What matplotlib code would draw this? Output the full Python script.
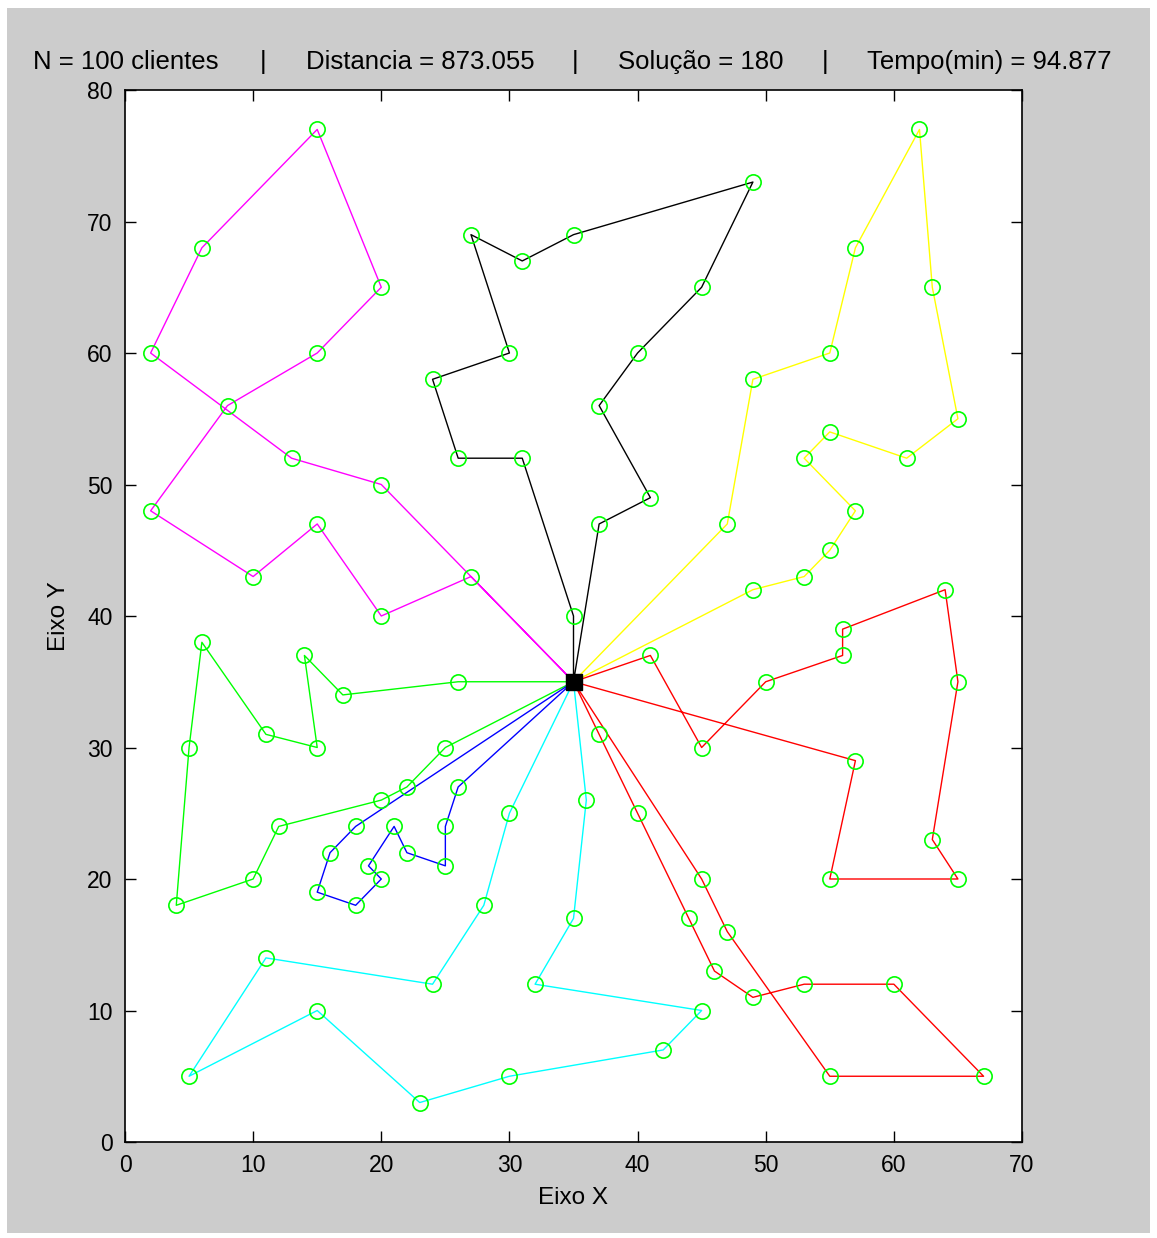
import matplotlib
matplotlib.use("Agg")
import matplotlib.pyplot as plt
from matplotlib.patches import Rectangle

W, H = 1157, 1238

# ---------------- data ----------------
depot_x, depot_y = 35, 35

magenta_x = [27, 20, 15, 10, 2, 8, 15, 20, 15, 6, 2, 13, 20]
magenta_y = [43, 40, 47, 43, 48, 56, 60, 65, 77, 68, 60, 52, 50]

black_x = [35, 31, 26, 24, 30, 27, 31, 35, 49, 45, 40, 37, 41, 37]
black_y = [40, 52, 52, 58, 60, 69, 67, 69, 73, 65, 60, 56, 49, 47]

yellow_x = [47, 49, 55, 57, 62, 63, 65, 61, 55, 53, 57, 55, 53, 49]
yellow_y = [47, 58, 60, 68, 77, 65, 55, 52, 54, 52, 48, 45, 43, 42]

redA_x = [41, 45, 50, 56, 56, 64, 65, 63, 65, 55, 57]
redA_y = [37, 30, 35, 37, 39, 42, 35, 23, 20, 20, 29]

redB_x = [37, 40, 44, 46, 49, 53, 60, 67, 55, 47, 45]
redB_y = [31, 25, 17, 13, 11, 12, 12, 5, 5, 16, 20]

green_x = [26, 17, 14, 15, 11, 6, 5, 4, 10, 12, 20, 22, 25]
green_y = [35, 34, 37, 30, 31, 38, 30, 18, 20, 24, 26, 27, 30]

blue_x = [26, 25, 25, 22, 21, 19, 20, 18, 15, 16, 18]
blue_y = [27, 24, 21, 22, 24, 21, 20, 18, 19, 22, 24]

cyan_x = [36, 35, 32, 45, 42, 30, 23, 15, 5, 11, 24, 28, 30]
cyan_y = [26, 17, 12, 10, 7, 5, 3, 10, 5, 14, 12, 18, 25]

routes = [
    (magenta_x, magenta_y, "#ff00ff"),
    (black_x, black_y, "#000000"),
    (yellow_x, yellow_y, "#ffff00"),
    (redA_x, redA_y, "#ff0000"),
    (redB_x, redB_y, "#ff0000"),
    (green_x, green_y, "#00ff00"),
    (blue_x, blue_y, "#0000ff"),
    (cyan_x, cyan_y, "#00ffff"),
]

title_parts = ["N = 100 clientes", "Distancia = 873.055", "Solução = 180", "Tempo(min) = 94.877"]
x_ticks = [0, 10, 20, 30, 40, 50, 60, 70]
y_ticks = [0, 10, 20, 30, 40, 50, 60, 70, 80]

# ---------------- figure ----------------
plt.rcParams["font.family"] = ["Liberation Sans", "DejaVu Sans"]
fig = plt.figure(figsize=(W / 100, H / 100), dpi=100, facecolor="white")
bg = Rectangle((7 / W, 1 - 1233 / H), (1150 - 7) / W, (1233 - 8) / H,
               transform=fig.transFigure, facecolor="#cccccc",
               edgecolor="none", zorder=-10)
fig.patches.append(bg)

ax = fig.add_axes([125 / W, 1 - 1142 / H, (1022 - 125) / W, (1142 - 90) / H])
ax.set_zorder(1)
ax.set_facecolor("white")

for xs, ys, col in routes:
    px = [depot_x] + xs + [depot_x]
    py = [depot_y] + ys + [depot_y]
    ax.plot(px, py, color=col, lw=1.0, zorder=2)

for xs, ys, col in routes:
    ax.plot(xs, ys, linestyle="none", marker="o", markersize=11, markerfacecolor="none",
            markeredgecolor="#00ff00", markeredgewidth=1.2, zorder=3)

ax.plot([depot_x], [depot_y], marker="s", markersize=12, color="black", zorder=4)

ax.set_xlim(0, 70)
ax.set_ylim(0, 80)
ax.set_xticks(x_ticks)
ax.set_yticks(y_ticks)
ax.tick_params(direction="in", length=8, width=1, top=True, right=True,
               labelsize=16.5, pad=9, colors="black")
for sp in ax.spines.values():
    sp.set_linewidth(1.2)
    sp.set_color("black")
ax.set_xlabel("Eixo X", fontsize=17.5, labelpad=7)
ax.set_ylabel("Eixo Y", fontsize=17.5, labelpad=12)

# title pieces
ty = 1 - 69 / H
fs = 18.5
fig.text(33 / W, ty, title_parts[0], fontsize=fs, ha="left", va="baseline")
fig.text(263 / W, ty, "|", fontsize=fs, ha="center", va="baseline")
fig.text(306 / W, ty, title_parts[1], fontsize=fs, ha="left", va="baseline")
fig.text(575 / W, ty, "|", fontsize=fs, ha="center", va="baseline")
fig.text(618 / W, ty, title_parts[2], fontsize=fs, ha="left", va="baseline")
fig.text(825 / W, ty, "|", fontsize=fs, ha="center", va="baseline")
fig.text(867 / W, ty, title_parts[3], fontsize=fs, ha="left", va="baseline")

fig.savefig("out.png", dpi=100, facecolor="white")
